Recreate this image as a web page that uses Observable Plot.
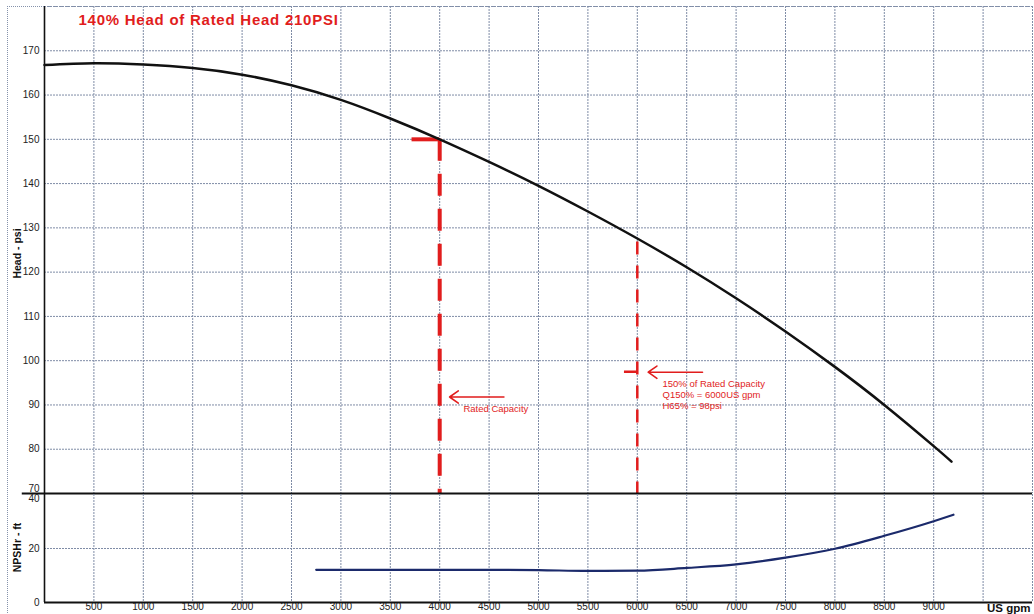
<!DOCTYPE html>
<html><head><meta charset="utf-8">
<script src="https://cdn.jsdelivr.net/npm/d3@7"></script>
<script src="https://cdn.jsdelivr.net/npm/@observablehq/plot@0.6"></script>
<style>
body{margin:0;background:#fff;font-family:"Liberation Sans",Arial,sans-serif;}
#wrap{position:relative;width:1034px;height:614px;overflow:hidden;background:#fff;}
#wrap svg{display:block;}
.frame{position:absolute;left:7px;top:6px;width:1024px;height:640px;border-left:1px dotted #8592ab;border-top:1px dotted #8592ab;pointer-events:none;}
</style></head><body><div id="wrap"></div>
<script>
const title = "140% Head of Rated Head 210PSI";
const headLabel = "Head - psi";
const npshLabel = "NPSHr - ft";
const flowUnit = "US gpm";

// Head curve (US gpm -> psi)
const headFlow = [0, 500, 1000, 1500, 2000, 2500, 3000, 3500, 4000, 4500, 5000, 5500, 6000, 6500, 7000, 7500, 8000, 8500, 9000, 9180];
const headPsi  = [166.8, 167.2, 166.9, 166.1, 164.6, 162.2, 158.9, 154.7, 150.0, 144.9, 139.5, 133.7, 127.6, 121.1, 114.1, 106.6, 98.6, 90.0, 80.7, 77.2];

// NPSHr curve (US gpm -> ft)
const npshFlow = [2750, 3000, 3500, 4000, 4500, 5000, 5500, 6000, 6500, 7000, 7500, 8000, 8500, 9000, 9200];
const npshFt   = [12.1, 12.1, 12.1, 12.1, 12.1, 12.0, 11.7, 11.8, 12.8, 14.1, 16.6, 19.9, 24.7, 30.1, 32.5];

// ticks / grid
const headTicks = [80, 90, 100, 110, 120, 130, 140, 150, 160, 170];
const headBottomTick = [70];
const headGrid = [80, 90, 100, 110, 120, 130, 140, 150, 160, 170, 180];
const npshTicks = [0, 20];
const npshTopTick = [40];
const npshGrid = [20];
const flowTicks = [500, 1000, 1500, 2000, 2500, 3000, 3500, 4000, 4500, 5000, 5500, 6000, 6500, 7000, 7500, 8000, 8500, 9000];
const flowGrid = [500, 1000, 1500, 2000, 2500, 3000, 3500, 4000, 4500, 5000, 5500, 6000, 6500, 7000, 7500, 8000, 8500, 9000, 9500, 10000];
const flowDomain = [0, 10000];
const headDomain = [70, 180];
const npshDomain = [0, 40];
const divider = [{x1: -225, x2: 10000, y: 70}];

// annotations
const rated = [{flow: 4000, head: 150, base: 70, hx1: 3720}];
const q150 = [{flow: 6000, head: 126.8, base: 70, hx1: 5870, hy: 97.5}];
const arrows = [
  {x1: 4650, y1: 91.8, x2: 4100, y2: 91.8},
  {x1: 6660, y1: 97.4, x2: 6110, y2: 97.4}
];
const notes = [
  {x: 4240, y: 89.2, text: "Rated Capacity"},
  {x: 6255, y: 94.8, text: "150% of Rated Capacity"},
  {x: 6255, y: 92.3, text: "Q150% = 6000US gpm"},
  {x: 6255, y: 89.7, text: "H65% = 98psi"}
];

const head = headFlow.map((f, i) => ({flow: f, value: headPsi[i]}));
const npsh = npshFlow.map((f, i) => ({flow: f, value: npshFt[i]}));

const RED = "#e11d1d";
const GRID = "#7f8ca6";
const W = 1034;
const fmt = d => String(d);

const headPlot = Plot.plot({
  width: W, height: 494,
  marginTop: 6, marginBottom: 1, marginLeft: 44, marginRight: 2,
  style: {fontFamily: "'Liberation Sans', Arial, sans-serif", color: "#222", overflow: "visible"},
  x: {domain: flowDomain, axis: null},
  y: {domain: headDomain, axis: null},
  marks: [
    Plot.gridX(flowGrid, {stroke: GRID, strokeOpacity: 1, strokeWidth: 1, strokeDasharray: "2,1"}),
    Plot.gridY(headGrid, {stroke: GRID, strokeOpacity: 1, strokeWidth: 1, strokeDasharray: "2,1"}),
    Plot.axisY(headTicks, {tickSize: 0, tickPadding: 5, fontSize: 10, label: null, tickFormat: fmt}),
    Plot.axisY(headBottomTick, {tickSize: 0, tickPadding: 5, fontSize: 10, label: null, dy: -5, tickFormat: fmt}),
    Plot.text([headLabel], {frameAnchor: "left", textAnchor: "middle", dx: -27, dy: 3.5, rotate: -90, fontWeight: "bold", fontSize: 10.5, fill: "#111"}),
    Plot.text([title], {frameAnchor: "top-left", dx: 34, dy: 14, textAnchor: "start", lineAnchor: "middle", fontWeight: "bold", fontSize: 15, fill: RED}),
    // rated capacity markers
    Plot.ruleX(rated, {x: "flow", y1: "head", y2: "base", stroke: RED, strokeWidth: 4, strokeDasharray: "22,13"}),
    Plot.ruleY(rated, {y: "head", x1: "hx1", x2: "flow", stroke: RED, strokeWidth: 4}),
    Plot.ruleX(q150, {x: "flow", y1: "head", y2: "base", stroke: RED, strokeWidth: 2.5, strokeDasharray: "13,11"}),
    Plot.ruleY(q150, {y: "hy", x1: "hx1", x2: "flow", stroke: RED, strokeWidth: 2.5}),
    Plot.arrow(arrows, {x1: "x1", y1: "y1", x2: "x2", y2: "y2", stroke: RED, strokeWidth: 1.6, headLength: 10, headAngle: 70}),
    Plot.text(notes, {x: "x", y: "y", text: "text", textAnchor: "start", fontSize: 9.5, fill: RED}),
    // head curve
    Plot.line(head, {x: "flow", y: "value", curve: "natural", stroke: "#111", strokeWidth: 2.5}),
    Plot.ruleX([0], {stroke: "#111", strokeWidth: 1.6}),
    Plot.ruleY(divider, {y: "y", x1: "x1", x2: "x2", stroke: "#111", strokeWidth: 2})
  ]
});

// widen the title's letter spacing like the reference
d3.select(headPlot).selectAll("text").filter(function () { return this.textContent === title; })
  .style("letter-spacing", "0.75px");

const npshPlot = Plot.plot({
  width: W, height: 120,
  marginTop: 0, marginBottom: 12, marginLeft: 44, marginRight: 2,
  style: {fontFamily: "'Liberation Sans', Arial, sans-serif", color: "#222", overflow: "visible"},
  x: {domain: flowDomain, axis: null},
  y: {domain: npshDomain, axis: null},
  marks: [
    Plot.gridX(flowGrid, {stroke: GRID, strokeOpacity: 1, strokeWidth: 1, strokeDasharray: "2,1"}),
    Plot.gridY(npshGrid, {stroke: GRID, strokeOpacity: 1, strokeWidth: 1, strokeDasharray: "2,1"}),
    Plot.axisY(npshTicks, {tickSize: 0, tickPadding: 5, fontSize: 10, label: null, tickFormat: fmt}),
    Plot.axisY(npshTopTick, {tickSize: 0, tickPadding: 5, fontSize: 10, label: null, dy: 4, tickFormat: fmt}),
    Plot.axisX(flowTicks, {tickSize: 0, tickPadding: 0, fontSize: 10, label: null, tickFormat: fmt}),
    Plot.text([npshLabel], {frameAnchor: "left", textAnchor: "middle", dx: -27, dy: -1, rotate: -90, fontWeight: "bold", fontSize: 10.5, fill: "#111"}),
    Plot.text([flowUnit], {frameAnchor: "bottom-right", dx: -2, dy: 6, textAnchor: "end", lineAnchor: "middle", fontWeight: "bold", fontSize: 11.5, fill: "#111"}),
    Plot.line(npsh, {x: "flow", y: "value", curve: "monotone-x", stroke: "#1b2a6b", strokeWidth: 2.2}),
    Plot.ruleX([0], {stroke: "#111", strokeWidth: 1.6}),
    Plot.ruleY([0], {stroke: "#111", strokeWidth: 2})
  ]
});

const wrap = document.getElementById("wrap");
wrap.appendChild(headPlot);
wrap.appendChild(npshPlot);
const fr = document.createElement("div");
fr.className = "frame";
wrap.appendChild(fr);
</script>
</body></html>
